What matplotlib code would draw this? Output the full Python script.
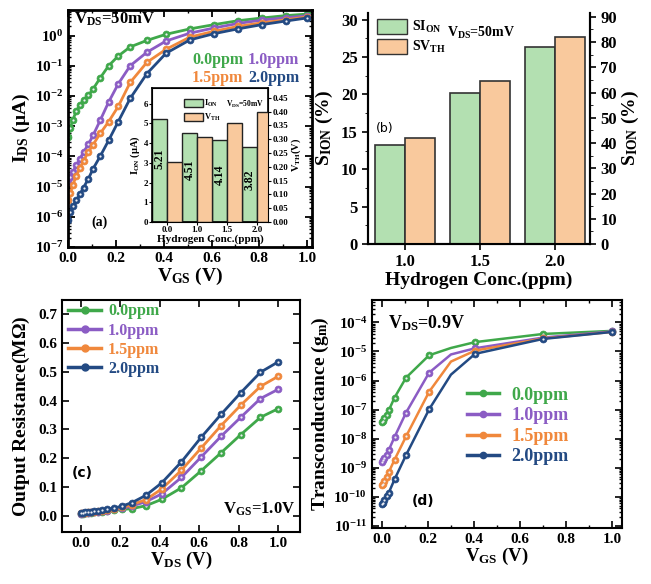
import numpy as np
import matplotlib
matplotlib.use('Agg')
import matplotlib.pyplot as plt
from matplotlib.patches import Patch
from matplotlib.lines import Line2D
from matplotlib.ticker import MultipleLocator, LogLocator, NullFormatter

plt.rcParams['font.family'] = 'Liberation Serif'
plt.rcParams['font.weight'] = 'bold'
plt.rcParams['axes.labelweight'] = 'bold'
plt.rcParams['mathtext.fontset'] = 'custom'
plt.rcParams['mathtext.rm'] = 'Liberation Serif:bold'
plt.rcParams['mathtext.it'] = 'Liberation Serif:bold'
plt.rcParams['mathtext.bf'] = 'Liberation Serif:bold'
plt.rcParams['mathtext.default'] = 'regular'

ppm_labels = ['0.0ppm', '1.0ppm', '1.5ppm', '2.0ppm']
colors = ['#3fa84a', '#8b5cc4', '#f0883c', '#234a83']

# (a) I_DS (uA) vs V_GS at V_DS = 50 mV
vgs_a = [0, 0.01, 0.02, 0.035, 0.05, 0.065, 0.085, 0.105, 0.135, 0.17,
         0.21, 0.26, 0.33, 0.41, 0.51, 0.61, 0.71, 0.81, 0.91, 1.0]
ids_00 = [4.5e-4, 8.9e-4, 1.6e-3, 3.2e-3, 5.0e-3, 7.4e-3, 1.05e-2, 1.7e-2, 4.0e-2, 0.10,
          0.21, 0.42, 0.69, 1.10, 1.66, 2.29, 3.09, 3.80, 4.57, 5.13]
ids_10 = [1.4e-5, 2.0e-5, 3.0e-5, 5.0e-5, 8.3e-5, 1.38e-4, 2.5e-4, 5.0e-4, 1.58e-3, 6.3e-3,
          2.5e-2, 0.10, 0.28, 0.66, 1.20, 1.78, 2.51, 3.24, 3.89, 4.51]
ids_15 = [3.5e-6, 6.3e-6, 1.12e-5, 2.3e-5, 4.1e-5, 7.2e-5, 1.38e-4, 2.45e-4, 5.8e-4, 1.41e-3,
          4.5e-3, 2.8e-2, 0.13, 0.35, 0.89, 1.38, 2.0, 2.63, 3.31, 4.14]
ids_20 = [8.1e-7, 1.4e-6, 2.2e-6, 3.5e-6, 5.6e-6, 9.3e-6, 1.8e-5, 3.9e-5, 1.02e-4, 3.4e-4,
          1.41e-3, 8.3e-3, 5.5e-2, 0.26, 0.72, 1.15, 1.66, 2.29, 3.02, 3.82]

# inset: I_ON and V_TH
inset_conc = ['0.0', '1.0', '1.5', '2.0']
ion = [5.21, 4.51, 4.14, 3.82]
vth = [0.218, 0.309, 0.359, 0.398]
ion_text = ['5.21', '4.51', '4.14', '3.82']
vth_text = ['', '0.218', '0.309', '0.398']

# (b) sensitivity
conc_b = ['1.0', '1.5', '2.0']
s_ion = [13.25, 20.25, 26.4]
s_vth = [41.9, 64.6, 82.1]

# (c) output resistance (MOhm) vs V_DS at V_GS = 1.0 V
vds_c = vgs_a
ro_00 = [0.008, 0.009, 0.010, 0.011, 0.012, 0.013, 0.014, 0.015, 0.017, 0.020,
         0.023, 0.026, 0.036, 0.058, 0.098, 0.157, 0.219, 0.282, 0.342, 0.372]
ro_10 = [0.009, 0.010, 0.011, 0.012, 0.013, 0.014, 0.015, 0.017, 0.019, 0.023,
         0.027, 0.035, 0.050, 0.077, 0.134, 0.205, 0.276, 0.342, 0.407, 0.439]
ro_15 = [0.010, 0.011, 0.012, 0.013, 0.014, 0.015, 0.016, 0.018, 0.021, 0.025,
         0.030, 0.040, 0.057, 0.094, 0.159, 0.236, 0.313, 0.384, 0.449, 0.484]
ro_20 = [0.011, 0.012, 0.013, 0.014, 0.015, 0.016, 0.018, 0.020, 0.024, 0.028,
         0.035, 0.047, 0.072, 0.115, 0.188, 0.273, 0.352, 0.427, 0.498, 0.534]

# (d) transconductance vs V_GS at V_DS = 0.9 V
vgs_d = [0, 0.005, 0.01, 0.02, 0.03, 0.055, 0.105, 0.205, 0.3, 0.405, 0.7, 1.0]
gm_00 = [3.8e-8, 4.2e-8, 5.0e-8, 6.3e-8, 9.5e-8, 2.6e-7, 1.26e-6, 7.4e-6, 1.32e-5, 2.1e-5, 4.0e-5, 5.1e-5]
gm_10 = [1.55e-9, 1.8e-9, 2.1e-9, 2.8e-9, 4.1e-9, 1.15e-8, 7.9e-8, 1.86e-6, 7.9e-6, 1.29e-5, 3.0e-5, 4.9e-5]
gm_15 = [2.5e-10, 2.8e-10, 3.5e-10, 5.0e-10, 7.1e-10, 1.9e-9, 1.2e-8, 4.1e-7, 4.5e-6, 1.07e-5, 2.8e-5, 4.7e-5]
gm_20 = [5.8e-11, 6.3e-11, 7.9e-11, 1.05e-10, 1.4e-10, 4.0e-10, 2.75e-9, 1.02e-7, 1.6e-6, 8.3e-6, 2.7e-5, 4.7e-5]
marked_d = [0, 1, 2, 3, 4, 5, 6, 7, 9, 10, 11]

W, H = 651, 584
fig = plt.figure(figsize=(W / 100, H / 100), dpi=100)


def box(l, r, t, b):
    return [l / W, (H - b) / H, (r - l) / W, (b - t) / H]


def dotted_line(ax, x, y, c, ms=5, lw=2, markevery=None):
    ax.plot(x, y, '-', color=c, lw=lw, marker='o', ms=ms, mfc=c, mec=c, mew=0.5,
            markevery=markevery)
    ax.plot(x, y, 'none', marker='o', ms=1.6, mfc='#eeeef4', mec='none',
            markevery=markevery)


def frame(ax, lw=1.5):
    for s in ax.spines.values():
        s.set_linewidth(lw)


# ---------- (a) ----------
ax1 = fig.add_axes(box(68, 312, 10, 247))
for y, c in zip([ids_00, ids_10, ids_15, ids_20], colors):
    dotted_line(ax1, vgs_a, y, c)
ax1.set_yscale('log')
ax1.set_ylim(1e-7, 7)
ax1.set_xlim(0, 1.02)
ax1.xaxis.set_major_locator(MultipleLocator(0.2))
ax1.xaxis.set_minor_locator(MultipleLocator(0.1))
ax1.yaxis.set_major_locator(LogLocator(base=10, numticks=20))
ax1.yaxis.set_minor_locator(LogLocator(base=10, subs=np.arange(2, 10), numticks=20))
ax1.yaxis.set_minor_formatter(NullFormatter())
ax1.xaxis.set_major_formatter(matplotlib.ticker.FormatStrFormatter('%.1f'))
ax1.tick_params(which='both', direction='in', top=True, right=True, labelsize=11)
ax1.tick_params(which='major', length=5, width=1.3)
ax1.tick_params(which='minor', length=2.5, width=1)
frame(ax1, 2)
ax1.set_xlabel(r'V$_{GS}$ (V)', fontsize=14, labelpad=1)
ax1.set_ylabel(r'I$_{DS}$ ($\mu$A)', fontsize=14, labelpad=2)
ax1.text(0.025, 0.962, r'V$_{DS}$=50mV', transform=ax1.transAxes, fontsize=12, va='center')
ax1.text(0.13, 0.106, '(a)', transform=ax1.transAxes, fontsize=10, ha='center', va='center')
for lab, c, xp, yp in zip(ppm_labels, colors, [0.508, 0.738, 0.508, 0.738], [0.789, 0.789, 0.713, 0.713]):
    ax1.text(xp, yp, lab, color=c, transform=ax1.transAxes, fontsize=11.5, va='center')

# inset
axi = fig.add_axes(box(152, 268, 88, 222))
xi = np.arange(len(inset_conc))
axi.bar(xi - 0.25, ion, width=0.5, color='#b3e0b1', edgecolor='#222222', lw=1)
axi.set_ylim(0, 6.8)
axi.set_xlim(-0.5, 3.35)
axi.set_xticks(xi)
axi.set_xticklabels(inset_conc)
axi.yaxis.set_major_locator(MultipleLocator(1))
axi.tick_params(direction='out', labelsize=6.5, length=2, pad=1)
axi.set_ylabel(r'I$_{ON}$ ($\mu$A)', fontsize=7.5, labelpad=1)
axi.set_xlabel('Hydrogen Conc.(ppm)', fontsize=8, labelpad=0)
axi2 = axi.twinx()
axi2.bar(xi + 0.25, vth, width=0.5, color='#f9c99d', edgecolor='#222222', lw=1)
axi2.set_ylim(0, 0.486)
axi2.yaxis.set_major_locator(MultipleLocator(0.05))
axi2.yaxis.set_major_formatter(matplotlib.ticker.FormatStrFormatter('%.2f'))
axi2.tick_params(direction='out', labelsize=6.5, length=2, pad=1)
axi2.set_ylabel(r'V$_{TH}$(V)', fontsize=7.5, labelpad=1)
frame(axi, 1.2)
for i in range(len(ion)):
    axi.text(i - 0.25, [3.23, 2.64, 2.39, 2.13][i], ion_text[i], rotation=90, fontsize=8.5,
             ha='center', va='center')
    if vth_text[i]:
        axi.text(i + 0.25, [0, 1.88, 1.96, 2.73][i], vth_text[i], rotation=90, fontsize=7.5,
                 color='#1010e0', ha='center', va='center')
axi2.legend([Patch(fc='#b3e0b1', ec='#222222'), Patch(fc='#f9c99d', ec='#222222')],
            [r'I$_{ON}$', r'V$_{TH}$'], loc='upper left', bbox_to_anchor=(0.28, 0.93),
            frameon=False, fontsize=6, handlelength=2.2, handleheight=1.1,
            borderpad=0, borderaxespad=0, labelspacing=0.35, handletextpad=0.2)
axi.text(0.97, 0.88, r'V$_{DS}$=50mV', transform=axi.transAxes, fontsize=5.5, ha='right', va='center')

# ---------- (b) ----------
ax2 = fig.add_axes(box(368, 590, 13, 244))
xb = np.arange(len(conc_b))
ax2.bar(xb - 0.2, s_ion, width=0.4, color='#b3e0b1', edgecolor='#333333', lw=1.2)
ax2.set_ylim(0, 30.9)
ax2.set_xlim(-0.5, 2.47)
ax2.set_xticks(xb)
ax2.set_xticklabels(conc_b)
ax2.yaxis.set_major_locator(MultipleLocator(5))
ax2.yaxis.set_minor_locator(MultipleLocator(2.5))
ax2.tick_params(which='both', direction='out', labelsize=12)
ax2.tick_params(which='major', length=4, width=1.2)
ax2.tick_params(which='minor', length=2.5)
ax2.set_xlabel('Hydrogen Conc.(ppm)', fontsize=14, labelpad=1)
ax2.set_ylabel(r'S$_{ION}$ (%)', fontsize=14, labelpad=4)
ax2b = ax2.twinx()
ax2b.bar(xb + 0.2, s_vth, width=0.4, color='#f9c99d', edgecolor='#333333', lw=1.2)
ax2b.set_ylim(0, 91.5)
ax2b.yaxis.set_major_locator(MultipleLocator(10))
ax2b.yaxis.set_minor_locator(MultipleLocator(5))
ax2b.tick_params(which='both', direction='out', labelsize=12)
ax2b.tick_params(which='major', length=4, width=1.2)
ax2b.tick_params(which='minor', length=2.5)
ax2b.set_ylabel(r'S$_{ION}$ (%)', fontsize=14, labelpad=2)
frame(ax2, 1.5)
frame(ax2b, 1.5)
ax2b.spines['top'].set_visible(False)
ax2.spines['top'].set_visible(False)
ax2b.legend([Patch(fc='#b3e0b1', ec='#333333'), Patch(fc='#f9c99d', ec='#333333')],
             [r'SI$_{ON}$', r'SV$_{TH}$'], loc='upper left', bbox_to_anchor=(0.04, 0.975),
             frameon=False, fontsize=10, handlelength=2.2, handleheight=1.35,
             borderpad=0, borderaxespad=0, labelspacing=0.25, handletextpad=0.3)
ax2.text(0.356, 0.913, r'V$_{DS}$=50mV', transform=ax2.transAxes, fontsize=10, va='center')
ax2.text(0.077, 0.502, '(b)', transform=ax2.transAxes, fontsize=9, ha='center', va='center',
         family='DejaVu Sans', weight='normal')

# ---------- (c) ----------
ax3 = fig.add_axes(box(62, 300, 300, 532))
for y, c in zip([ro_00, ro_10, ro_15, ro_20], colors):
    dotted_line(ax3, vds_c, y, c, ms=5)
ax3.set_xlim(-0.095, 1.11)
ax3.set_ylim(-0.055, 0.748)
ax3.xaxis.set_major_locator(MultipleLocator(0.2))
ax3.yaxis.set_major_locator(MultipleLocator(0.1))
ax3.xaxis.set_major_formatter(matplotlib.ticker.FormatStrFormatter('%.1f'))
ax3.yaxis.set_major_formatter(matplotlib.ticker.FormatStrFormatter('%.1f'))
ax3.tick_params(which='both', direction='in', top=True, right=True, labelsize=11)
ax3.tick_params(which='major', length=5, width=1.2)
frame(ax3, 1.5)
ax3.set_xlabel(r'V$_{DS}$ (V)', fontsize=13.5, labelpad=0)
ax3.set_ylabel(r'Output Resistance(M$\Omega$)', fontsize=14, labelpad=4)
hc = [Line2D([], [], color=c, lw=2.5, marker='o', ms=5, mfc=c, mec=c) for c in colors]
leg = ax3.legend(hc, ppm_labels, loc='upper left', bbox_to_anchor=(0.025, 0.985), frameon=False,
                 fontsize=11.5, handlelength=2.1, handletextpad=0.4, labelspacing=0.2,
                 borderpad=0, borderaxespad=0)
for t, c in zip(leg.get_texts(), colors):
    t.set_color(c)
ax3.text(0.98, 0.099, r'V$_{GS}$=1.0V', transform=ax3.transAxes, fontsize=12, ha='right', va='center')
ax3.text(0.083, 0.255, '(c)', transform=ax3.transAxes, fontsize=10, ha='center', va='center',
         family='DejaVu Sans', weight='bold')

# ---------- (d) ----------
ax4 = fig.add_axes(box(372, 622, 300, 528))
for y, c in zip([gm_00, gm_10, gm_15, gm_20], colors):
    dotted_line(ax4, vgs_d, y, c, ms=5, lw=1.8, markevery=marked_d)
ax4.set_yscale('log')
ax4.set_ylim(10 ** -11.07, 10 ** -3.23)
ax4.set_xlim(-0.043, 1.043)
ax4.xaxis.set_major_locator(MultipleLocator(0.2))
ax4.xaxis.set_minor_locator(MultipleLocator(0.1))
ax4.yaxis.set_major_locator(LogLocator(base=10, numticks=20))
ax4.yaxis.set_minor_locator(LogLocator(base=10, subs=np.arange(2, 10), numticks=20))
ax4.yaxis.set_minor_formatter(NullFormatter())
ax4.xaxis.set_major_formatter(matplotlib.ticker.FormatStrFormatter('%.1f'))
ax4.tick_params(which='both', direction='in', top=True, right=True, labelsize=11)
ax4.tick_params(which='major', length=5, width=1.2)
ax4.tick_params(which='minor', length=2.5, width=1)
frame(ax4, 1.5)
ax4.set_xlabel(r'V$_{GS}$ (V)', fontsize=13.5, labelpad=0)
ax4.set_ylabel(r'Transconductance (g$_m$)', fontsize=14, labelpad=2)
hd = [Line2D([], [], color=c, lw=2.5, marker='o', ms=4.5, mfc=c, mec=c) for c in colors]
leg = ax4.legend(hd, ppm_labels, loc='upper left', bbox_to_anchor=(0.38, 0.62), frameon=False,
                 fontsize=13, handlelength=1.75, handletextpad=0.7, labelspacing=0.2,
                 borderpad=0, borderaxespad=0)
for t, c in zip(leg.get_texts(), colors):
    t.set_color(c)
ax4.text(0.064, 0.90, r'V$_{DS}$=0.9V', transform=ax4.transAxes, fontsize=13, va='center')
ax4.text(0.205, 0.12, '(d)', transform=ax4.transAxes, fontsize=10, ha='center', va='center',
         family='DejaVu Sans', weight='bold')

fig.savefig('out.png', dpi=100)
